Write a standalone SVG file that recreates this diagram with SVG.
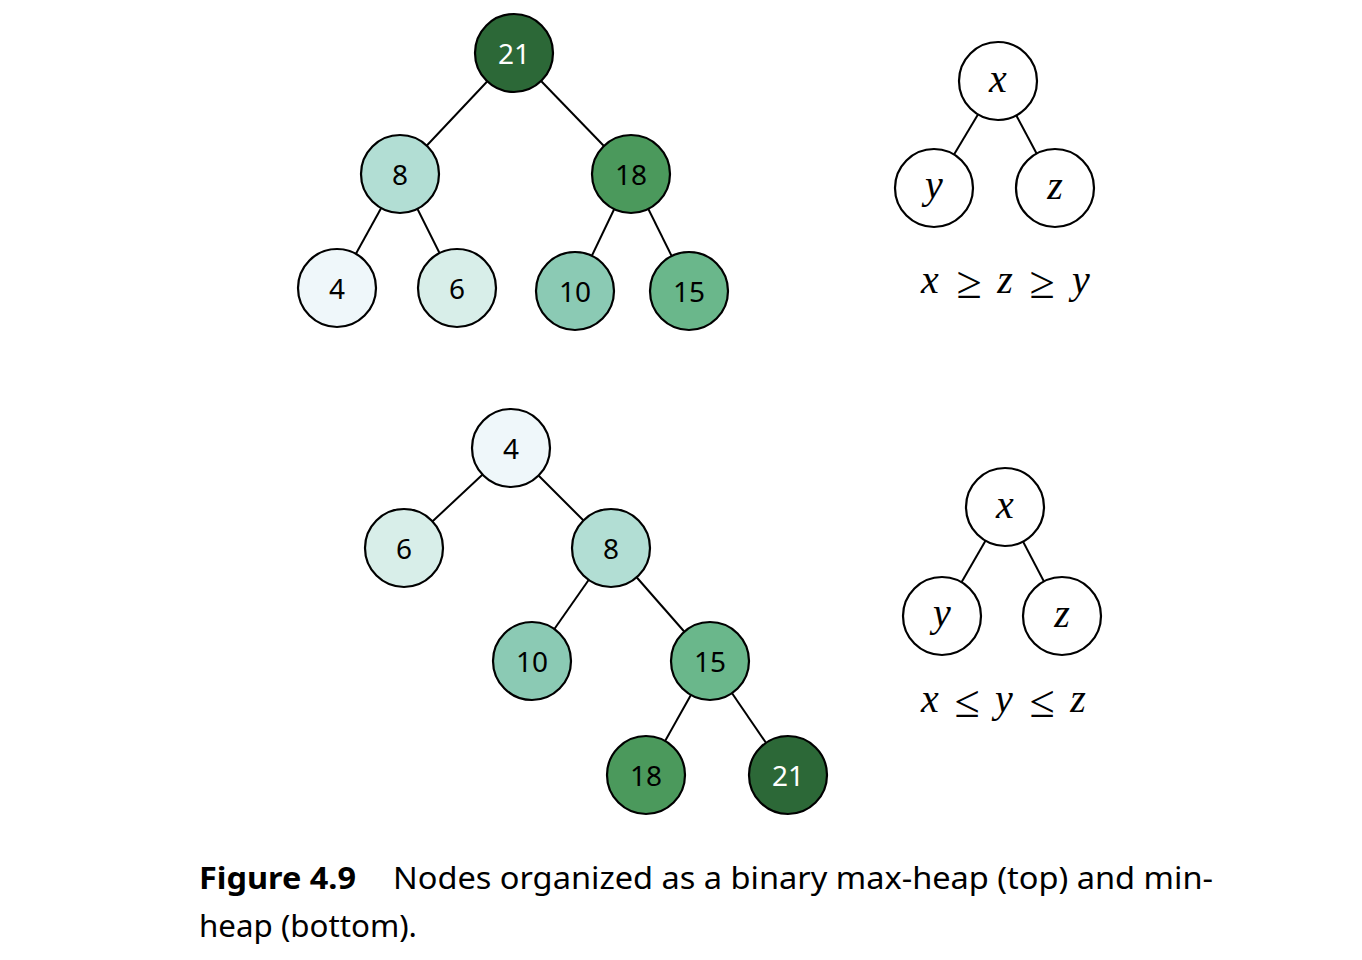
<svg xmlns="http://www.w3.org/2000/svg" width="1362" height="960" viewBox="0 0 1362 960">
<style>
.n{stroke:#000;stroke-width:2.2}
.lb{font-family:"Noto Sans","Open Sans",sans-serif;font-size:28px;text-anchor:middle;fill:#000}
.w{fill:#fff}
.m{font-family:"Liberation Serif","DejaVu Serif",serif;font-style:italic;font-size:40px;text-anchor:middle;fill:#000}
.r{font-family:"Liberation Serif","DejaVu Serif",serif;font-size:46px;text-anchor:middle;fill:#000}
.e line{stroke:#000;stroke-width:2}
.cap{font-family:"Noto Sans","Open Sans",sans-serif;font-size:30px;fill:#000}
</style>
<rect width="1362" height="960" fill="#fff"/>
<g id="connectors" class="e">
<line x1="514" y1="53" x2="400" y2="174"/>
<line x1="514" y1="53" x2="631" y2="174"/>
<line x1="400" y1="174" x2="337" y2="288"/>
<line x1="400" y1="174" x2="457" y2="288"/>
<line x1="631" y1="174" x2="575" y2="291"/>
<line x1="631" y1="174" x2="689" y2="291"/>
<line x1="998" y1="81" x2="934" y2="188"/>
<line x1="998" y1="81" x2="1055" y2="188"/>
<line x1="511" y1="448" x2="404" y2="548"/>
<line x1="511" y1="448" x2="611" y2="548"/>
<line x1="611" y1="548" x2="532" y2="661"/>
<line x1="611" y1="548" x2="710" y2="661"/>
<line x1="710" y1="661" x2="646" y2="775"/>
<line x1="710" y1="661" x2="788" y2="775"/>
<line x1="1005" y1="507" x2="942" y2="616"/>
<line x1="1005" y1="507" x2="1062" y2="616"/>
</g>
<g id="t21"><circle class="n" cx="514" cy="53" r="39" fill="#2c6837"/><text class="lb w" x="514" y="64">21</text></g>
<g id="t8"><circle class="n" cx="400" cy="174" r="39" fill="#b2ded4"/><text class="lb" x="400" y="185">8</text></g>
<g id="t18"><circle class="n" cx="631" cy="174" r="39" fill="#4b995c"/><text class="lb" x="631" y="185">18</text></g>
<g id="t4"><circle class="n" cx="337" cy="288" r="39" fill="#eff7fa"/><text class="lb" x="337" y="299">4</text></g>
<g id="t6"><circle class="n" cx="457" cy="288" r="39" fill="#d8eee9"/><text class="lb" x="457" y="299">6</text></g>
<g id="t10"><circle class="n" cx="575" cy="291" r="39" fill="#8bcab4"/><text class="lb" x="575" y="302">10</text></g>
<g id="t15"><circle class="n" cx="689" cy="291" r="39" fill="#6ab78b"/><text class="lb" x="689" y="302">15</text></g>
<g id="tx"><circle class="n" cx="998" cy="81" r="39" fill="#fff"/><text class="m" x="998" y="92">x</text></g>
<g id="ty"><circle class="n" cx="934" cy="188" r="39" fill="#fff"/><text class="m" x="934" y="198">y</text></g>
<g id="tz"><circle class="n" cx="1055" cy="188" r="39" fill="#fff"/><text class="m" x="1055" y="199">z</text></g>
<g id="tformula">
<text class="m" x="930" y="293">x</text>
<text class="r" x="969" y="298">≥</text>
<text class="m" x="1005" y="293">z</text>
<text class="r" x="1042" y="298">≥</text>
<text class="m" x="1081" y="293">y</text>
</g>
<g id="b4"><circle class="n" cx="511" cy="448" r="39" fill="#eff7fa"/><text class="lb" x="511" y="459">4</text></g>
<g id="b6"><circle class="n" cx="404" cy="548" r="39" fill="#d8eee9"/><text class="lb" x="404" y="559">6</text></g>
<g id="b8"><circle class="n" cx="611" cy="548" r="39" fill="#b2ded4"/><text class="lb" x="611" y="559">8</text></g>
<g id="b10"><circle class="n" cx="532" cy="661" r="39" fill="#8bcab4"/><text class="lb" x="532" y="672">10</text></g>
<g id="b15"><circle class="n" cx="710" cy="661" r="39" fill="#6ab78b"/><text class="lb" x="710" y="672">15</text></g>
<g id="b18"><circle class="n" cx="646" cy="775" r="39" fill="#4b995c"/><text class="lb" x="646" y="786">18</text></g>
<g id="b21"><circle class="n" cx="788" cy="775" r="39" fill="#2c6837"/><text class="lb w" x="788" y="786">21</text></g>
<g id="bx"><circle class="n" cx="1005" cy="507" r="39" fill="#fff"/><text class="m" x="1005" y="518">x</text></g>
<g id="by"><circle class="n" cx="942" cy="616" r="39" fill="#fff"/><text class="m" x="942" y="626">y</text></g>
<g id="bz"><circle class="n" cx="1062" cy="616" r="39" fill="#fff"/><text class="m" x="1062" y="627">z</text></g>
<g id="bformula">
<text class="m" x="930" y="712">x</text>
<text class="r" x="967" y="717">≤</text>
<text class="m" x="1004" y="712">y</text>
<text class="r" x="1042" y="717">≤</text>
<text class="m" x="1078" y="712">z</text>
</g>
<g id="caption">
<text class="cap" x="199" y="889" font-weight="bold" textLength="157" lengthAdjust="spacingAndGlyphs">Figure 4.9</text>
<text class="cap" x="393" y="889" textLength="820" lengthAdjust="spacingAndGlyphs">Nodes organized as a binary max-heap (top) and min-</text>
<text class="cap" x="199" y="937" textLength="218" lengthAdjust="spacingAndGlyphs">heap (bottom).</text>
</g>
</svg>
